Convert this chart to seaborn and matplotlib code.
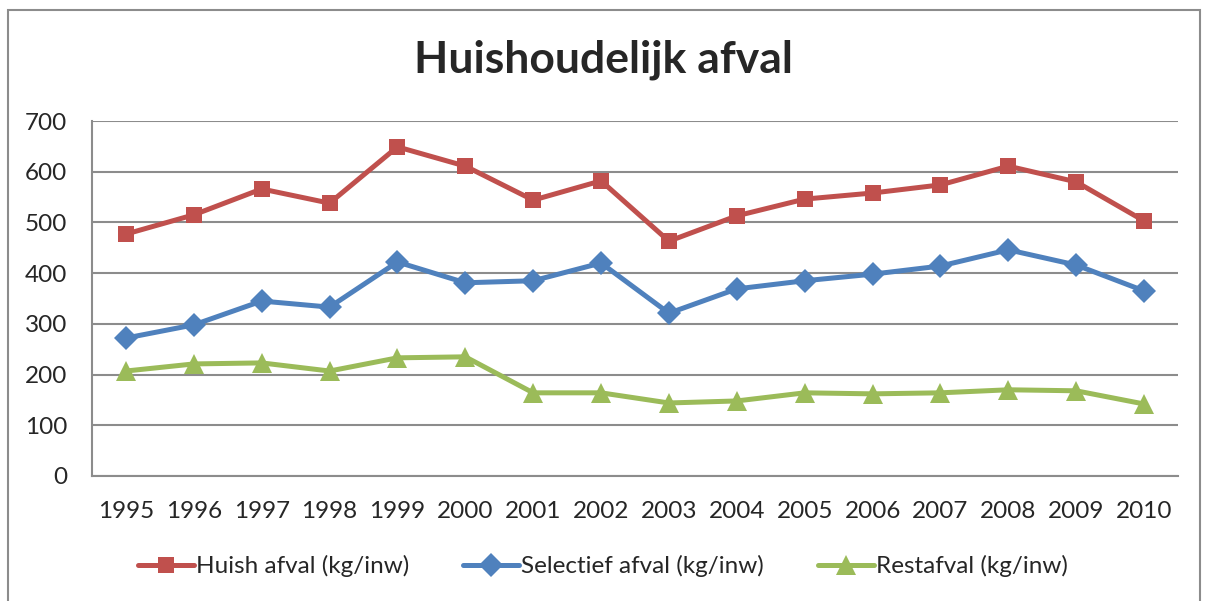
import numpy as np
import pandas as pd
import matplotlib
matplotlib.use("Agg")
import matplotlib.pyplot as plt
import seaborn as sns
from matplotlib.patches import Rectangle

# data
years = ['1995', '1996', '1997', '1998', '1999', '2000', '2001', '2002',
         '2003', '2004', '2005', '2006', '2007', '2008', '2009', '2010']
huish = [477, 515, 566, 538, 649, 611, 544, 582, 463, 513, 546, 558, 574, 611, 580, 503]
selectief = [272, 298, 345, 333, 422, 381, 385, 420, 321, 369, 385, 398, 414, 446, 416, 365]
rest = [207, 221, 223, 207, 233, 235, 164, 164, 144, 148, 164, 162, 164, 170, 168, 142]
series_names = ['Huish afval (kg/inw)', 'Selectief afval (kg/inw)', 'Restafval (kg/inw)']
colors = ['#C0504D', '#4F81BD', '#9BBB59']
markers = ['s', 'D', '^']
msizes = [14, 11, 17]

sns.set_style("white")
plt.rcParams['font.family'] = ['Lato', 'DejaVu Sans']

fig = plt.figure(figsize=(12.06, 6.01), dpi=100)
ax = fig.add_axes([92/1206, 1 - 476/601, (1178 - 92)/1206, (476 - 121)/601])

# outer chart frame
fig.patches.append(Rectangle((8/1206, -0.05), (1200 - 8)/1206, 1 - 10/601 + 0.05,
                             transform=fig.transFigure, fill=False,
                             edgecolor='#8c8c8c', linewidth=1.5, zorder=0))

x = np.arange(len(years))
for name, vals, c, m, ms in zip(series_names, [huish, selectief, rest], colors, markers, msizes):
    df = pd.DataFrame({'x': x, 'y': vals})
    sns.lineplot(data=df, x='x', y='y', ax=ax, color=c, linewidth=3.6,
                 marker=m, markersize=ms, markeredgewidth=0, label=name)

ax.set_xlim(-0.5, len(years) - 0.5)
ax.set_ylim(0, 700)
ax.set_yticks(np.arange(0, 701, 100))
ax.set_xticks(np.arange(-0.5, len(years), 1.0))
ax.set_xticklabels([])
ax.set_xticks(x, minor=True)
ax.set_xticklabels(years, minor=True)
ax.tick_params(axis='x', which='major', length=8, width=1.5, color='#8c8c8c', direction='out')
ax.tick_params(axis='x', which='minor', length=0, labelsize=17.5, pad=18)
ax.tick_params(axis='y', length=8, width=1.5, color='#8c8c8c', direction='out', labelsize=17.5, pad=10)
ax.set_xlabel('')
ax.set_ylabel('')
ax.grid(axis='y', color='#8c8c8c', linewidth=1.5)
ax.set_axisbelow(True)
for s in ['top', 'right']:
    ax.spines[s].set_visible(False)
for s in ['left', 'bottom']:
    ax.spines[s].set_color('#8c8c8c')
    ax.spines[s].set_linewidth(1.5)

fig.text(0.5, 1 - 60/601, 'Huishoudelijk afval', ha='center', va='center',
         fontsize=32, fontweight='bold')

ax.legend_.remove()
handles, labels = ax.get_legend_handles_labels()
for h, ms in zip(handles, [12, 12, 14]):
    h.set_markersize(ms)
fig.legend(handles, labels, loc='center', bbox_to_anchor=(0.5, 1 - 566/601), ncol=3,
           frameon=False, fontsize=17.5, handlelength=2.3, handletextpad=0.1,
           columnspacing=2.2)

fig.savefig('out.png', dpi=100)
